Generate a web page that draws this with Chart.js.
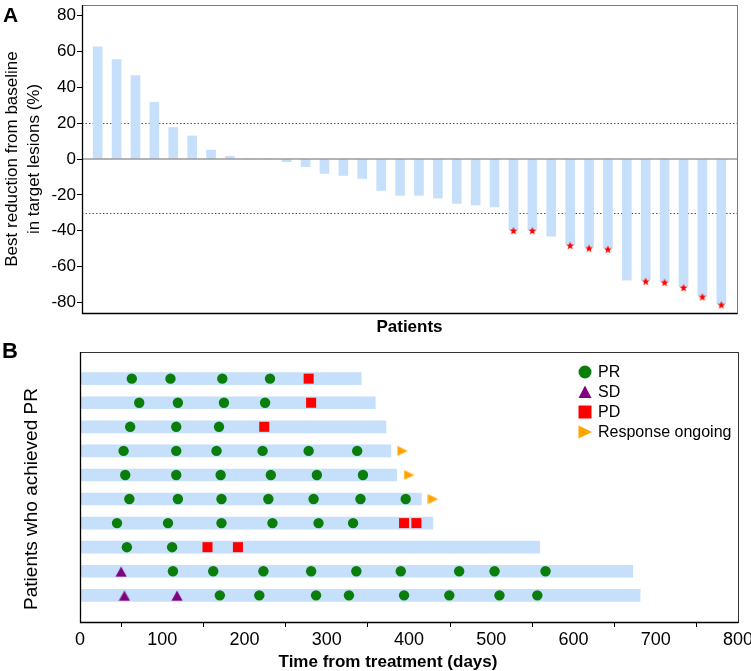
<!DOCTYPE html>
<html>
<head>
<meta charset="utf-8">
<script src="https://cdn.jsdelivr.net/npm/chart.js@4.4.0/dist/chart.umd.min.js"></script>
<style>
body { margin: 0; background: #fff; width: 751px; height: 671px; position: relative; overflow: hidden;
       font-family: "Liberation Sans", Arial, sans-serif; color: #000; }
#boxA { position: absolute; left: 0; top: 0; width: 751px; height: 340px; }
#boxB { position: absolute; left: 0; top: 340px; width: 751px; height: 331px; }
.lbl { position: absolute; font-weight: bold; }
#titleBy { position: absolute; left: -119px; top: 488px; width: 300px; line-height: 22px; font-size: 19px;
           text-align: center; transform: rotate(-90deg); }
#titleBx { position: absolute; left: 188px; top: 652px; width: 400px; line-height: 20px; font-size: 17px;
           font-weight: bold; text-align: center; }
</style>
</head>
<body>
<div id="boxA"><canvas id="chartA"></canvas></div>
<div id="boxB"><canvas id="chartB"></canvas></div>
<div class="lbl" style="left:3px;top:3px;font-size:21px">A</div>
<div class="lbl" style="left:2px;top:338px;font-size:22px">B</div>
<div id="titleBy">Patients who achieved PR</div>
<div id="titleBx">Time from treatment (days)</div>
<script>
// Panel A : meilleure variation par patient
const patientIds = [1, 2, 3, 4, 5, 6, 7, 8, 9, 10, 11, 12, 13, 14, 15, 16, 17,
                    18, 19, 20, 21, 22, 23, 24, 25, 26, 27, 28, 29, 30, 31, 32, 33, 34];
const bestChange = [62.7, 55.5, 46.6, 31.6, 17.6, 12.9, 5.0, 1.5, 0, 0, -1.5, -4.3, -8.1, -9.2,
                    -10.9, -17.6, -20.3, -20.3, -21.8, -24.8, -25.7, -26.8, -39.4, -39.4, -43.1,
                    -47.7, -49.2, -49.8, -67.7, -67.7, -68.3, -71.2, -76.4, -80.8];
const starredIds = [23, 24, 26, 27, 28, 30, 31, 32, 33, 34];
const refLines = [20, -30];
const yTicksA = [-80, -60, -40, -20, 0, 20, 40, 60, 80];

// Panel B : patients en réponse partielle (de haut en bas)
const rows = [10, 9, 8, 7, 6, 5, 4, 3, 2, 1];
const rowEnds = [342, 359, 372, 378, 385, 415, 429, 559, 672, 681];
const prDays = [
    [63, 110, 173, 231],
    [72, 119, 175, 225],
    [61, 117, 169],
    [53, 117, 166, 222, 278, 337],
    [55, 117, 171, 232, 288, 344],
    [60, 119, 172, 229, 284, 341, 396],
    [45, 107, 172, 234, 290, 332],
    [57, 112],
    [113, 162, 223, 281, 336, 390, 461, 504, 566],
    [170, 218, 287, 327, 394, 449, 510, 556]
];
const sdDays = [[], [], [], [], [], [], [], [], [50], [54, 118]];
const pdDays = [[278], [281], [224], [], [], [], [394, 409], [155, 192], [], []];
const ongoingDays = [null, null, null, 392, 400, 429, null, null, null, null];
const xTicksB = [0, 100, 200, 300, 400, 500, 600, 700, 800];

const BAR = '#c6e0fb';
const GREEN = '#0a7d0a';
const PURPLE = '#800080';
const RED = '#ff0000';
const ORANGE = '#ffa500';
const FONT = '"Liberation Sans", Arial, sans-serif';

Chart.defaults.font.family = FONT;
Chart.defaults.color = '#000';

// Petits marqueurs dessinés sur un canvas
function makeMarker(w, h, color, points) {
    const c = document.createElement('canvas');
    c.width = w; c.height = h;
    const g = c.getContext('2d');
    g.fillStyle = color;
    g.beginPath();
    points.forEach(function (p, i) { i ? g.lineTo(p[0], p[1]) : g.moveTo(p[0], p[1]); });
    g.closePath();
    g.fill();
    return c;
}

function starPoints(cx, cy, ro, ri) {
    const pts = [];
    for (let k = 0; k < 10; k++) {
        const r = k % 2 ? ri : ro;
        const a = -Math.PI / 2 + k * Math.PI / 5;
        pts.push([cx + r * Math.cos(a), cy + r * Math.sin(a)]);
    }
    return pts;
}

const starImg = makeMarker(10, 13, RED, starPoints(5, 8, 4.2, 1.8));
const triImg = makeMarker(12, 12, PURPLE, [[0.3, 11.5], [11.7, 11.5], [6, 1.3]]);
const arrowImg = makeMarker(11, 11, ORANGE, [[0.5, 0.5], [0.5, 10.5], [10.8, 5.5]]);

// Cadre du graphique
const framePlugin = {
    id: 'frame',
    afterDraw(chart, args, opts) {
        const ctx = chart.ctx, a = chart.chartArea;
        ctx.save();
        ctx.strokeStyle = opts.boxColor;
        ctx.lineWidth = 1;
        ctx.strokeRect(a.left + 0.5, a.top + 0.5, a.right - a.left, a.bottom - a.top);
        ctx.strokeStyle = '#000';
        ctx.lineWidth = 1.3;
        ctx.beginPath();
        ctx.moveTo(a.left + 0.5, a.top);
        ctx.lineTo(a.left + 0.5, a.bottom + 0.5);
        ctx.lineTo(a.right + 0.5, a.bottom + 0.5);
        ctx.stroke();
        ctx.restore();
    }
};

// Lignes de référence du panneau A
const refPlugin = {
    id: 'refs',
    beforeDatasetsDraw(chart) {
        const ctx = chart.ctx, a = chart.chartArea, y = chart.scales.y;
        ctx.save();
        ctx.strokeStyle = '#555';
        ctx.lineWidth = 1;
        ctx.setLineDash([1.5, 2]);
        refLines.forEach(function (v) {
            const py = Math.round(y.getPixelForValue(v)) + 0.5;
            ctx.beginPath();
            ctx.moveTo(a.left, py);
            ctx.lineTo(a.right, py);
            ctx.stroke();
        });
        ctx.restore();
    },
    afterDatasetsDraw(chart) {
        const ctx = chart.ctx, a = chart.chartArea, y = chart.scales.y;
        const py = y.getPixelForValue(0);
        ctx.save();
        ctx.strokeStyle = '#9a9a9a';
        ctx.lineWidth = 1.4;
        ctx.beginPath();
        ctx.moveTo(a.left, py);
        ctx.lineTo(a.right, py);
        ctx.stroke();
        ctx.restore();
    }
};

// Légende du panneau B
const legendItems = [
    { label: 'PR', kind: 'circle', color: GREEN },
    { label: 'SD', kind: 'tri', color: PURPLE },
    { label: 'PD', kind: 'square', color: RED },
    { label: 'Response ongoing', kind: 'arrow', color: ORANGE }
];

const legendPlugin = {
    id: 'legendB',
    afterDraw(chart) {
        const ctx = chart.ctx, a = chart.chartArea;
        const mx = a.right - 153, tx = a.right - 140;
        ctx.save();
        ctx.font = '16px ' + FONT;
        ctx.textBaseline = 'middle';
        legendItems.forEach(function (it, k) {
            const cy = a.top + 20 + 20 * k;
            ctx.fillStyle = it.color;
            ctx.beginPath();
            if (it.kind === 'circle') {
                ctx.arc(mx, cy, 6.5, 0, Math.PI * 2);
            } else if (it.kind === 'tri') {
                ctx.moveTo(mx - 6.5, cy + 6);
                ctx.lineTo(mx + 6.5, cy + 6);
                ctx.lineTo(mx, cy - 6.5);
            } else if (it.kind === 'square') {
                ctx.rect(mx - 6.5, cy - 6.5, 13, 13);
            } else {
                ctx.moveTo(mx - 6.5, cy - 6.5);
                ctx.lineTo(mx - 6.5, cy + 6.5);
                ctx.lineTo(mx + 7, cy);
            }
            ctx.closePath();
            ctx.fill();
            ctx.fillStyle = '#000';
            ctx.fillText(it.label, tx, cy + 1);
        });
        ctx.restore();
    }
};

function initChartA() {
    const ctx = document.getElementById('chartA').getContext('2d');
    return new Chart(ctx, {
        type: 'bar',
        data: {
            datasets: [{
                type: 'bar',
                data: patientIds.map(function (p, i) { return { x: p, y: bestChange[i] }; }),
                backgroundColor: BAR,
                barThickness: 9,
                order: 2
            }, {
                type: 'scatter',
                data: starredIds.map(function (p) { return { x: p, y: bestChange[p - 1] }; }),
                pointStyle: starImg,
                order: 1
            }]
        },
        options: {
            responsive: true,
            maintainAspectRatio: false,
            animation: false,
            layout: { padding: { top: 4, right: 14, left: 0, bottom: 0 } },
            plugins: { legend: { display: false }, tooltip: { enabled: false }, frame: { boxColor: '#7a7a7a' } },
            scales: {
                x: {
                    type: 'linear',
                    min: 0.17,
                    max: 34.83,
                    offset: false,
                    grid: { display: false },
                    border: { display: false },
                    ticks: { display: false },
                    title: { display: true, text: 'Patients', font: { size: 17, weight: 'bold', lineHeight: 1.2 },
                             padding: { top: 0, bottom: 2 } },
                    afterFit: function (s) { s.height = 27; s.paddingLeft = 0; s.paddingRight = 0; }
                },
                y: {
                    min: -86,
                    max: 86,
                    offset: false,
                    afterBuildTicks: function (s) { s.ticks = yTicksA.map(function (v) { return { value: v }; }); },
                    grid: { drawOnChartArea: false, drawTicks: true, tickLength: 5, color: '#000' },
                    border: { display: false },
                    ticks: { font: { size: 17 }, padding: 1 },
                    title: { display: true, text: ['Best reduction from baseline', 'in target lesions (%)'],
                             font: { size: 17, lineHeight: 1.3 }, padding: { top: 1, bottom: 0 } },
                    afterFit: function (s) { s.width = 82; s.paddingTop = 0; s.paddingBottom = 0; }
                }
            }
        },
        plugins: [refPlugin, framePlugin]
    });
}

function pointsFrom(list) {
    const out = [];
    list.forEach(function (days, i) {
        days.forEach(function (d) { out.push({ x: d, y: rows[i] }); });
    });
    return out;
}

function initChartB() {
    const ctx = document.getElementById('chartB').getContext('2d');
    const ongoing = [];
    ongoingDays.forEach(function (d, i) { if (d !== null) ongoing.push({ x: d, y: rows[i] }); });
    return new Chart(ctx, {
        type: 'bar',
        data: {
            datasets: [{
                type: 'bar',
                indexAxis: 'y',
                data: rows.map(function (r, i) { return { x: [0, rowEnds[i]], y: r }; }),
                backgroundColor: BAR,
                barThickness: 12,
                order: 5
            }, {
                type: 'scatter',
                data: pointsFrom(prDays),
                pointStyle: 'circle',
                pointRadius: 5.2,
                backgroundColor: GREEN,
                borderWidth: 0,
                order: 1
            }, {
                type: 'scatter',
                data: pointsFrom(sdDays),
                pointStyle: triImg,
                order: 1
            }, {
                type: 'scatter',
                data: pointsFrom(pdDays),
                pointStyle: 'rect',
                pointRadius: 7.1,
                backgroundColor: RED,
                borderWidth: 0,
                order: 1
            }, {
                type: 'scatter',
                data: ongoing,
                pointStyle: arrowImg,
                order: 1
            }]
        },
        options: {
            responsive: true,
            maintainAspectRatio: false,
            animation: false,
            layout: { padding: { top: 12, right: 13, left: 0, bottom: 0 } },
            plugins: { legend: { display: false }, tooltip: { enabled: false }, frame: { boxColor: '#333' } },
            scales: {
                x: {
                    type: 'linear',
                    min: 0,
                    max: 800,
                    offset: false,
                    afterBuildTicks: function (s) { s.ticks = xTicksB.map(function (v) { return { value: v }; }); },
                    grid: { drawOnChartArea: false, drawTicks: true, tickLength: 5, color: '#000' },
                    border: { display: false },
                    ticks: { font: { size: 18 }, padding: 2, maxRotation: 0 },
                    afterFit: function (s) { s.height = 49; s.paddingLeft = 0; s.paddingRight = 0; }
                },
                y: {
                    type: 'linear',
                    min: -0.107,
                    max: 11.107,
                    offset: false,
                    grid: { display: false },
                    border: { display: false },
                    ticks: { display: false },
                    afterFit: function (s) { s.width = 80; s.paddingTop = 0; s.paddingBottom = 0; }
                }
            }
        },
        plugins: [framePlugin, legendPlugin]
    });
}

document.addEventListener('DOMContentLoaded', function () {
    initChartA();
    initChartB();
});
</script>
</body>
</html>
